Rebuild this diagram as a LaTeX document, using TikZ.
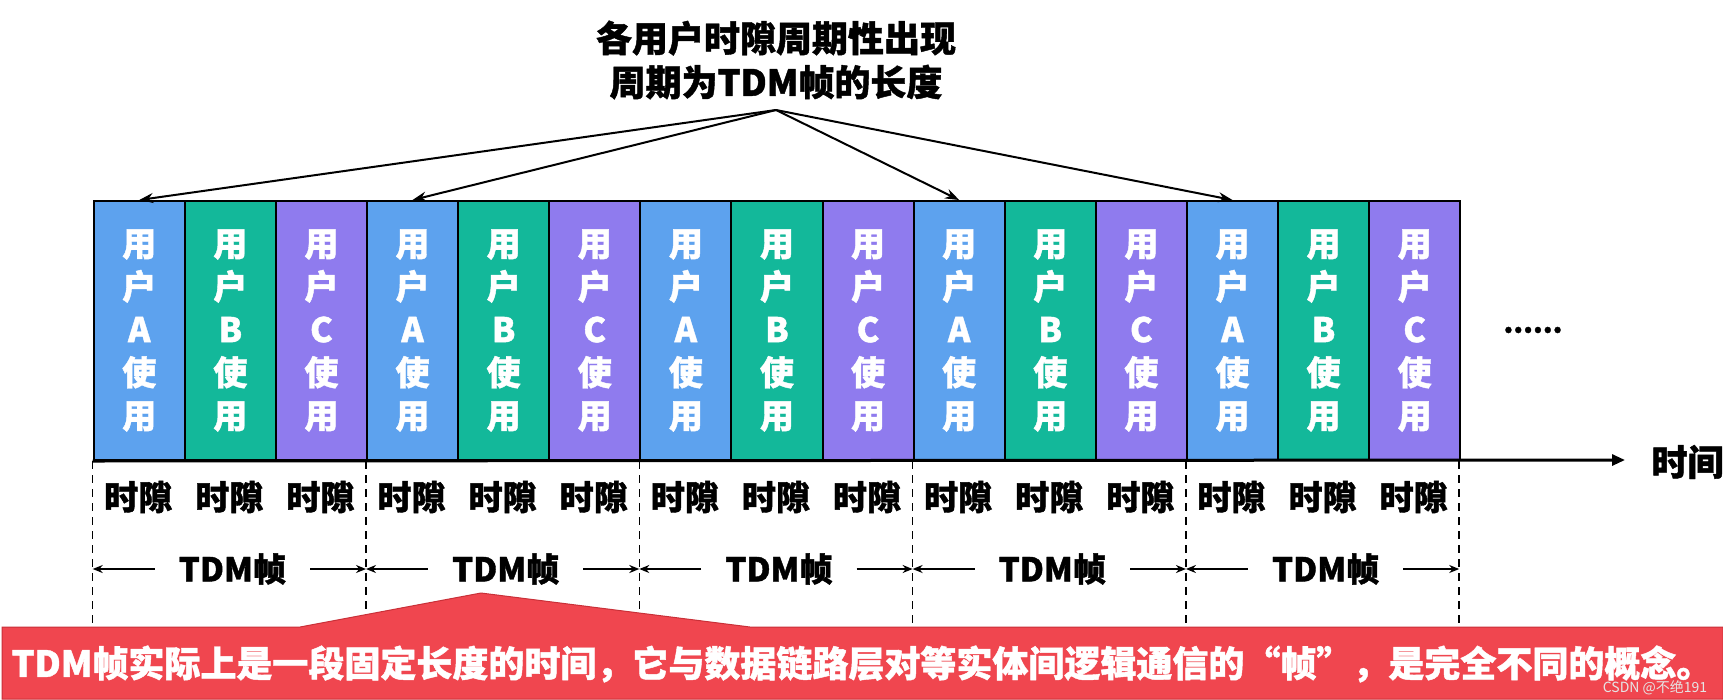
\documentclass[tikz,border=0pt]{standalone}
\usepackage{fontspec}
\setmainfont{Noto Sans CJK SC}[BoldFeatures={FakeBold=1.2}]
\usetikzlibrary{arrows.meta}
\definecolor{ua}{HTML}{5DA2EE}
\definecolor{ub}{HTML}{13B89A}
\definecolor{uc}{HTML}{8F7BEE}
\definecolor{band}{HTML}{F0464F}
\definecolor{bandedge}{HTML}{C93038}
\begin{document}
\begin{tikzpicture}[x=1pt,y=-1pt,
  slot/.style={draw=black, line width=2pt, minimum width=91.1pt, minimum height=259pt,
    inner sep=0pt, align=center, text=white, anchor=north west,
    font=\bfseries\fontsize{34}{43}\selectfont},
  lbl/.style={inner sep=0pt, font=\bfseries\fontsize{34}{40}\selectfont},
  flbl/.style={inner sep=0pt, font=\bfseries\fontsize{33}{40}\selectfont},
  ptr/.style={line width=2pt, -{Stealth[length=14pt,width=10pt]}},
  tdmarr/.style={line width=1.6pt, -{Stealth[length=10pt,width=8pt]}},
  frameline/.style={line width=1.5pt, dash pattern=on 8pt off 6pt}]
\useasboundingbox (0,0) rectangle (1723,699);
\fill[white] (0,0) rectangle (1723,699);

% title
\node[align=center, font=\bfseries\fontsize{36}{44}\selectfont] (title) at (776,60)
  {各用户时隙周期性出现\\周期为TDM帧的长度};
\coordinate (apex) at (776,110);

% slot boxes
\foreach \f in {0,...,4}{
  \foreach \c/\l [count=\j from 0] in {ua/A,ub/B,uc/C}{
    \pgfmathtruncatemacro\i{3*\f+\j}
    \node[slot, fill=\c] (b\i) at ({92.7+91.1*\i},200) {用\\户\\\l\\使\\用};
    \node[lbl] (s\i) at ({92.7+91.1*(\i+0.5)},497) {时隙};
  }
}

% pointers
\foreach \i in {0,3,9,12}{
  \draw[ptr] (apex) -- (b\i.north);
}

% frame boundaries
\foreach \k in {0,...,5}{
  \coordinate (dt\k) at ({92.7+273.3*\k},461);
  \coordinate (db\k) at ({92.7+273.3*\k},624);
  \draw[frameline] (dt\k) -- (db\k);
}

% TDM frame labels
\foreach \f [evaluate=\f as \g using int(\f+1)] in {0,...,4}{
  \node[flbl] (t\f) at ({92.7+273.3*(\f+0.5)+3},569) {TDM帧};
  \draw[tdmarr] ([xshift=-24pt]t\f.west) -- (dt\f |- t\f.west);
  \draw[tdmarr] ([xshift=24pt]t\f.east) -- (dt\g |- t\f.east);
}

% time axis
\coordinate (axend) at (1625,460);
\draw[line width=3pt, -{Triangle[length=13pt,width=11pt]}] (b0.south west) -- (axend);
\node[font=\bfseries\fontsize{36}{40}\selectfont, anchor=west] (time) at (1648,462) {时间};
\node[font=\bfseries\fontsize{28}{30}\selectfont] (dots) at (1533,330) {......};

% red callout band
\fill[band, draw=bandedge, line width=1pt]
  (2,627) -- (300,627) -- (481,593) -- (750,627) -- (1723,627) -- (1723,699) -- (2,699) -- cycle;
\node[text=white, font=\bfseries\fontsize{36}{40}\selectfont] (note) at (862,664)
  {TDM帧实际上是一段固定长度的时间，它与数据链路层对等实体间逻辑通信的“帧”，是完全不同的概念。};
\node[text=white!80!gray, font=\fontsize{14}{15}\selectfont] (wm) at (1655,688) {CSDN @不绝191};
\end{tikzpicture}
\end{document}
